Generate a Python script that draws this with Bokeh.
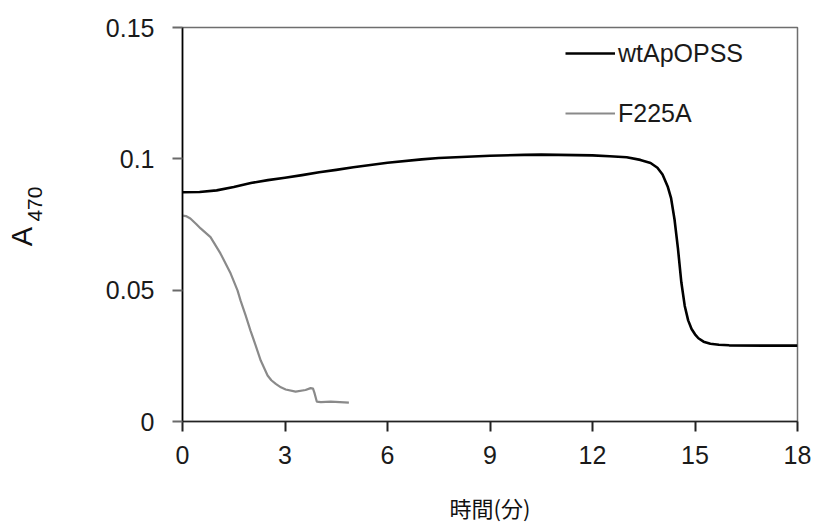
from bokeh.plotting import figure
from bokeh.models import (FixedTicker, NumeralTickFormatter, Legend, LegendItem, Range1d,
                          LinearAxis)
from bokeh.embed import file_html
from bokeh.resources import INLINE

# data
wt_time = [0, 0.5, 1, 1.5, 2, 2.5, 3, 3.5, 4, 4.5, 5, 6, 7, 7.5, 8, 9, 10, 10.5, 11, 12, 12.5, 13,
           13.4, 13.7, 13.9, 14.05, 14.2, 14.3, 14.4, 14.5, 14.6, 14.7, 14.8, 14.9, 15.0, 15.1,
           15.25, 15.45, 15.7, 16, 17, 18]
wt_a470 = [0.0873, 0.0874, 0.0880, 0.0893, 0.0908, 0.0919, 0.0928, 0.0938, 0.0949, 0.0958, 0.0968,
           0.0985, 0.0998, 0.1003, 0.1006, 0.1012, 0.1015, 0.1016, 0.1015, 0.1013, 0.1010, 0.1006,
           0.0996, 0.0984, 0.0966, 0.0940, 0.0895, 0.0850, 0.0770, 0.0660, 0.0530, 0.0440, 0.0385,
           0.0352, 0.0332, 0.0317, 0.0304, 0.0296, 0.0292, 0.0290, 0.0289, 0.0289]
mut_time = [0, 0.1, 0.23, 0.4, 0.53, 0.82, 1.11, 1.41, 1.61, 1.7, 1.85, 1.99, 2.14, 2.29, 2.49,
            2.6, 2.73, 2.88, 3.02, 3.31, 3.6, 3.75, 3.82, 3.86, 3.93, 4.05, 4.34, 4.87]
mut_a470 = [0.0784, 0.0782, 0.0773, 0.0752, 0.0735, 0.0702, 0.064, 0.0563, 0.0499, 0.046, 0.0403,
            0.0346, 0.029, 0.0232, 0.0175, 0.0157, 0.0143, 0.0130, 0.0122, 0.0114, 0.0120, 0.0127,
            0.0125, 0.0110, 0.0076, 0.0074, 0.0076, 0.0072]
series_names = ["wtApOPSS", "F225A"]
x_ticks = [0, 3, 6, 9, 12, 15, 18]
y_ticks = [0, 0.05, 0.1, 0.15]
x_title = "時間(分)"
y_title_main = "A"
y_title_sub = "470"

FONT = "Liberation Sans"
NBSP = "\u00a0"

p = figure(width=818, height=525, output_backend="svg", toolbar_location=None,
           x_range=Range1d(0, 18), y_range=Range1d(0, 0.15),
           min_border_left=182, min_border_right=21, min_border_top=27, min_border_bottom=104)
p.grid.visible = False
p.background_fill_color = "white"
p.border_fill_color = "white"
p.outline_line_color = "#6e6e6e"
p.outline_line_width = 1.5

r1 = p.line(wt_time, wt_a470, line_color="black", line_width=2.6, line_join="round")
r2 = p.line(mut_time, mut_a470, line_color="#8a8a8a", line_width=2.2, line_join="round")

# axes
xa = p.xaxis[0]
ya = p.yaxis[0]
xa.ticker = FixedTicker(ticks=x_ticks)
ya.ticker = FixedTicker(ticks=y_ticks)
ya.formatter = NumeralTickFormatter(format="0.[00]")
for ax in (xa, ya):
    ax.minor_tick_line_color = None
    ax.major_tick_in = 0
    ax.major_tick_out = 10
    ax.major_label_text_font = FONT
    ax.major_label_text_font_size = "25px"
    ax.major_label_text_color = "#1a1a1a"
xa.axis_line_color = "#222222"
xa.axis_line_width = 1.6
xa.major_tick_line_color = "#222222"
xa.major_tick_line_width = 2
xa.major_label_standoff = 14
ya.axis_line_color = "black"
ya.axis_line_width = 1.6
ya.major_tick_line_color = "#6a6a6a"
ya.major_tick_line_width = 2
ya.major_label_standoff = 18

xa.axis_label = x_title
xa.axis_label_text_font = "Noto Sans CJK JP"
xa.axis_label_text_font_size = "22px"
xa.axis_label_text_font_style = "normal"
xa.axis_label_text_color = "#111111"
xa.axis_label_standoff = 24

# y title: subscript "470" on the main axis, big "A" on an empty outer axis
ya.axis_label = NBSP * 7 + y_title_sub
ya.axis_label_text_font = FONT
ya.axis_label_text_font_size = "21px"
ya.axis_label_text_font_style = "normal"
ya.axis_label_text_color = "#111111"
ya.axis_label_standoff = 57

outer = LinearAxis(ticker=FixedTicker(ticks=[]), axis_line_color=None,
                   major_tick_line_color=None, minor_tick_line_color=None,
                   major_tick_in=0, major_tick_out=0, minor_tick_in=0, minor_tick_out=0,
                   major_label_standoff=0, major_label_text_font_size="0px")
outer.axis_label = y_title_main + NBSP * 3
outer.axis_label_text_font = FONT
outer.axis_label_text_font_size = "29px"
outer.axis_label_text_font_style = "normal"
outer.axis_label_text_color = "#111111"
outer.axis_label_standoff = -18
p.add_layout(outer, "left")

legend = Legend(items=[LegendItem(label=series_names[0], renderers=[r1]),
                       LegendItem(label=series_names[1], renderers=[r2])],
                location=(383, 293), orientation="vertical")
legend.border_line_color = None
legend.background_fill_alpha = 0
legend.padding = 0
legend.margin = 0
legend.spacing = 30
legend.glyph_width = 50
legend.glyph_height = 30
legend.label_height = 30
legend.label_standoff = 3
legend.label_text_font = FONT
legend.label_text_font_size = "25px"
legend.label_text_color = "#1a1a1a"
p.add_layout(legend)

open("out.html", "w").write(file_html(p, INLINE))
